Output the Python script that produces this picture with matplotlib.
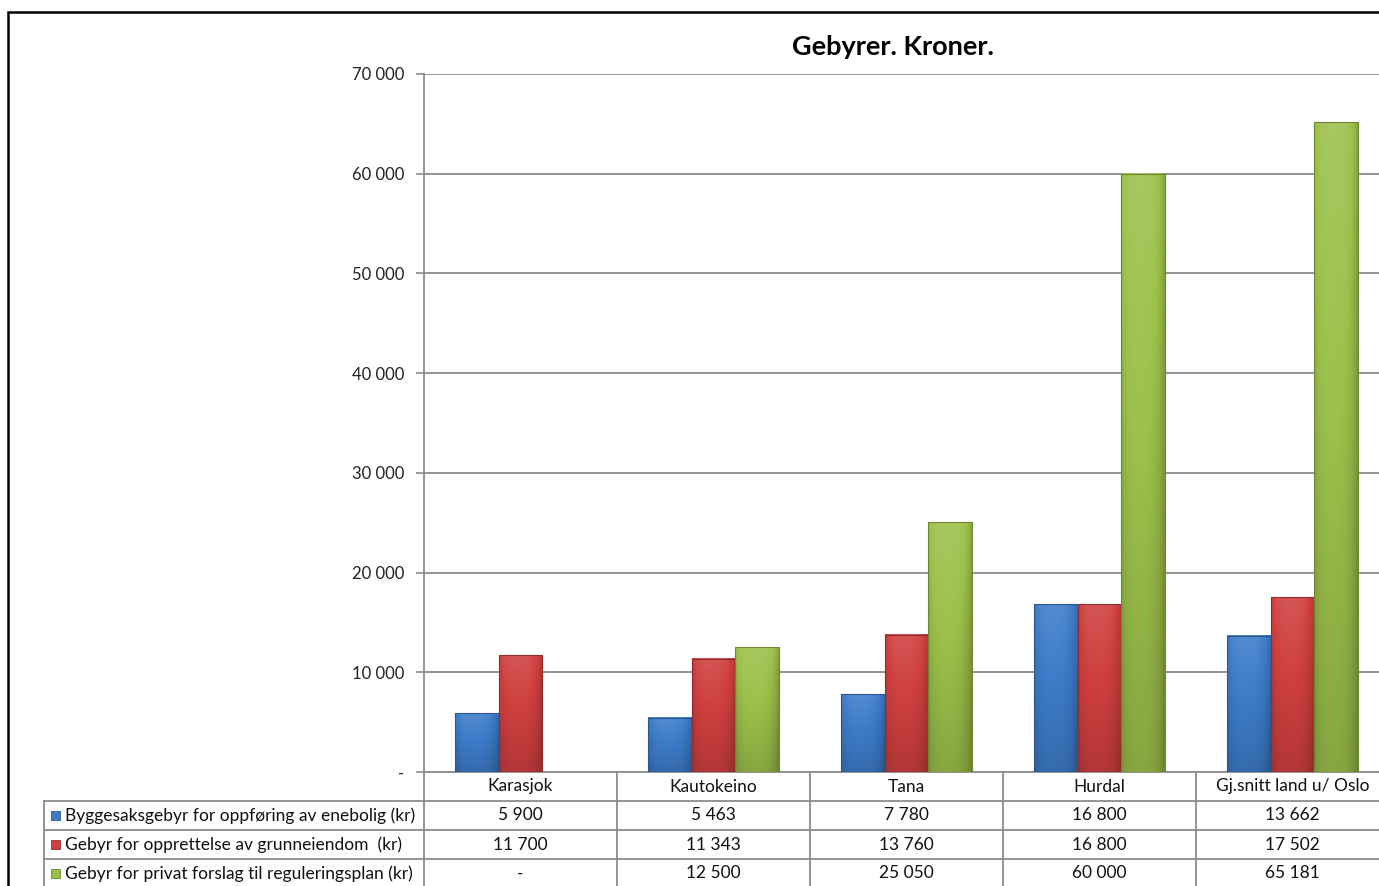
import numpy as np
import matplotlib
matplotlib.use("Agg")
import matplotlib.pyplot as plt
from matplotlib.patches import Rectangle
from matplotlib.lines import Line2D

plt.rcParams["font.family"] = ["Lato", "DejaVu Sans"]

categories = ["Karasjok", "Kautokeino", "Tana", "Hurdal", "Gj.snitt land u/ Oslo"]
series_names = [
    "Byggesaksgebyr for oppføring av enebolig (kr)",
    "Gebyr for opprettelse av grunneiendom  (kr)",
    "Gebyr for privat forslag til reguleringsplan (kr)",
]
byggesak = [5900, 5463, 7780, 16800, 13662]
grunneiendom = [11700, 11343, 13760, 16800, 17502]
regulering = [np.nan, 12500, 25050, 60000, 65181]
yticks = [0, 10000, 20000, 30000, 40000, 50000, 60000, 70000]

colors = ["#3d7cc9", "#cf3f3f", "#9cc04a"]
grid_col = "#8c8c8c"

W, H = 1379, 886
fig = plt.figure(figsize=(W / 100, H / 100), dpi=100)


def fx(px):
    return px / W


def fy(py):
    return 1 - py / H


# chart area border (cut off at right/bottom)
fig.patches.append(Rectangle((fx(8), fy(900)), 1.2, fy(12) - fy(900),
                             transform=fig.transFigure, fill=False,
                             edgecolor="black", linewidth=1.8))

ax_left, ax_top, ax_bottom, cat_w = 424, 74, 772, 193
ax = fig.add_axes([fx(ax_left), fy(ax_bottom), 5 * cat_w / W, (ax_bottom - ax_top) / H])


def shade(rgb, f):
    rgb = np.asarray(rgb)
    if f >= 1:
        return rgb + (1 - rgb) * (f - 1)
    return rgb * f


def grad_bar(x0, width, height, color):
    base = np.array(matplotlib.colors.to_rgb(color))
    ny, nx = 80, 30
    t = np.linspace(0, 1, ny)[:, None]
    s = np.linspace(0, 1, nx)[None, :]
    fv = 1.12 - 0.25 * t
    fh = 1 - 0.22 * s ** 6 - 0.12 * (1 - s) ** 8
    f = fv * fh
    img = np.zeros((ny, nx, 3))
    for i in range(3):
        lo = base[i] * f
        hi = base[i] + (1 - base[i]) * (f - 1)
        img[:, :, i] = np.where(f >= 1, hi, lo)
    img = np.clip(img, 0, 1)
    ax.imshow(img, extent=[x0, x0 + width, 0, height], aspect="auto",
              interpolation="bilinear", zorder=3)
    ax.add_patch(Rectangle((x0, 0), width, height, fill=False,
                           edgecolor=shade(base, 0.7), linewidth=0.8, zorder=4))


bw = 43.5 / cat_w
x = np.arange(len(categories))
for k, vals in enumerate([byggesak, grunneiendom, regulering]):
    for xi, v in zip(x, vals):
        if np.isnan(v):
            continue
        grad_bar(xi + (k - 1) * bw - bw / 2, bw, v, colors[k])

ax.set_xlim(-0.5, len(categories) - 0.5)
ax.set_ylim(0, 70000)
ax.set_yticks(yticks)
ax.set_yticklabels(["-"] + [f"{v:,.0f}".replace(",", " ") for v in yticks[1:]],
                   fontsize=12, color="#222222")
ax.set_xticks([])
ax.tick_params(axis="y", length=6, width=1.2, color=grid_col, pad=8)
ax.grid(axis="y", color=grid_col, linewidth=1.3, zorder=0)
ax.set_axisbelow(True)
for side in ["top", "right"]:
    ax.spines[side].set_visible(False)
for side in ["left", "bottom"]:
    ax.spines[side].set_color(grid_col)
    ax.spines[side].set_linewidth(1.3)

fig.text(fx(893), fy(47), "Gebyrer. Kroner.", ha="center", va="center",
         fontsize=19.5, fontweight="bold")

# data table under the axis
row_h = 29
label_left = 44
rows = [byggesak, grunneiendom, regulering]
n_rows = len(rows) + 1
table_right = ax_left + 5 * cat_w + 20
fs = 12.5


def hline(py, x0, x1):
    fig.lines.append(Line2D([fx(x0), fx(x1)], [fy(py), fy(py)], transform=fig.transFigure,
                            color=grid_col, linewidth=1.3))


def vline(px, y0, y1):
    fig.lines.append(Line2D([fx(px), fx(px)], [fy(y0), fy(y1)], transform=fig.transFigure,
                            color=grid_col, linewidth=1.3))


for r in range(1, n_rows + 1):
    hline(ax_bottom + r * row_h, label_left, table_right)
for c in range(len(categories) + 1):
    vline(ax_left + c * cat_w, ax_bottom, ax_bottom + n_rows * row_h)
vline(label_left, ax_bottom + row_h, ax_bottom + n_rows * row_h)

for c, name in enumerate(categories):
    cx = ax_left + (c + 0.5) * cat_w
    fig.text(fx(cx), fy(ax_bottom + 0.5 * row_h), name, ha="center", va="center",
             fontsize=fs, color="#111111")
    for r, vals in enumerate(rows):
        v = vals[c]
        s = "-" if np.isnan(v) else f"{v:,.0f}".replace(",", " ")
        fig.text(fx(cx), fy(ax_bottom + (r + 1.5) * row_h), s, ha="center", va="center",
                 fontsize=fs, color="#111111")

for r, name in enumerate(series_names):
    cy = ax_bottom + (r + 1.5) * row_h
    base = np.array(matplotlib.colors.to_rgb(colors[r]))
    fig.patches.append(Rectangle((fx(51), fy(cy + 4.5)), 9 / W, 9 / H,
                                 transform=fig.transFigure, facecolor=colors[r],
                                 edgecolor=shade(base, 0.7), linewidth=0.6))
    fig.text(fx(65), fy(cy), name, ha="left", va="center", fontsize=fs,
             color="#111111")

fig.savefig("out.png", dpi=100)
